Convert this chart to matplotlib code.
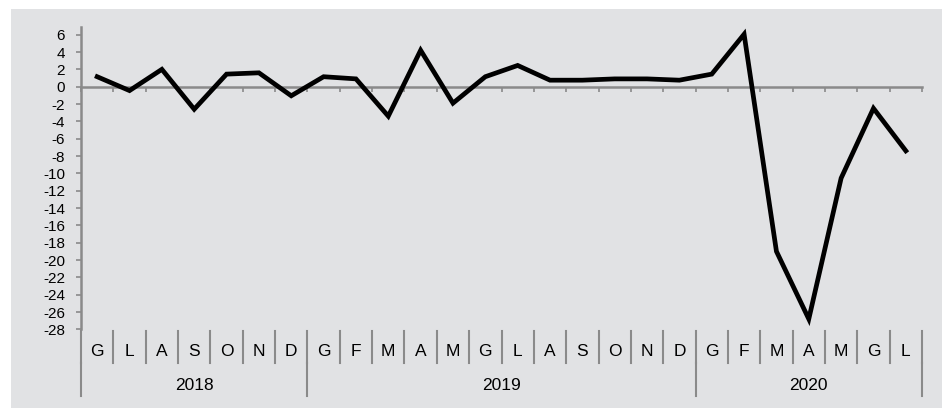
import matplotlib
matplotlib.use("Agg")
import matplotlib.pyplot as plt
from matplotlib.patches import Rectangle
import matplotlib.transforms as mtransforms

months = ['G', 'L', 'A', 'S', 'O', 'N', 'D',
          'G', 'F', 'M', 'A', 'M', 'G', 'L', 'A', 'S', 'O', 'N', 'D',
          'G', 'F', 'M', 'A', 'M', 'G', 'L']
years = ['2018', '2019', '2020']
year_counts = [7, 12, 7]
values = [1.15, -0.45, 2.0, -2.6, 1.45, 1.6, -1.05,
          1.15, 0.9, -3.4, 4.2, -1.9, 1.15, 2.45, 0.75, 0.75, 0.9, 0.9, 0.75,
          1.45, 6.05, -19.0, -26.8, -10.55, -2.5, -7.4]
yticks = list(range(-28, 7, 2))

plt.rcParams['font.family'] = ['Liberation Sans', 'DejaVu Sans']

W, H = 942, 408
fig = plt.figure(figsize=(W / 100, H / 100), dpi=100)
fig.patch.set_facecolor('white')
bg = '#e1e2e4'
fig.add_artist(Rectangle((11 / W, 0), 1 - 11 / W, 1 - 9 / H,
                         transform=fig.transFigure, facecolor=bg,
                         edgecolor='none', zorder=-10))

left, right = 81 / W, 922 / W
bottom, top = 1 - 329.4 / H, 1 - 26.7 / H
ax = fig.add_axes([left, bottom, right - left, top - bottom])
ax.set_facecolor('none')
ax.set_zorder(5)

n = len(months)
x = list(range(n))
ax.plot(x, values, color='black', lw=3.4, solid_joinstyle='miter', zorder=3)

ax.set_xlim(-0.5, n - 0.5)
ax.set_ylim(-28, 6.92)

gray = '#8a8a8a'
for s in ['top', 'right']:
    ax.spines[s].set_visible(False)
ax.spines['left'].set_color(gray)
ax.spines['left'].set_linewidth(1.8)
ax.spines['bottom'].set_position(('data', 0))
ax.spines['bottom'].set_color(gray)
ax.spines['bottom'].set_linewidth(1.8)

ax.set_yticks(yticks)
ax.set_yticklabels([str(v) for v in yticks], fontsize=11)
ax.tick_params(axis='y', direction='out', length=3.5, width=1.2, color=gray, pad=8)
ax.set_xticks([i - 0.5 for i in range(n + 1)])
ax.set_xticklabels([])
ax.tick_params(axis='x', direction='out', length=3.5, width=1.2, color=gray)

trans = mtransforms.blended_transform_factory(ax.transData, ax.transAxes)
ax_h = 329.4 - 26.7
def yf(py):
    return (329.4 - py) / ax_h

# month separators
for k in range(n + 1):
    ax.plot([k - 0.5, k - 0.5], [yf(330.5), yf(363)], transform=trans,
            color=gray, lw=1.5, clip_on=False)
for i, m in enumerate(months):
    ax.text(i, yf(352), m, transform=trans, ha='center', va='center',
            fontsize=12.5, color='black')

# year separators and labels
start = 0
bounds = [0]
for c in year_counts:
    start += c
    bounds.append(start)
for b in bounds:
    ax.plot([b - 0.5, b - 0.5], [yf(363), yf(396)], transform=trans,
            color=gray, lw=1.5, clip_on=False)
for yr, a, b in zip(years, bounds[:-1], bounds[1:]):
    ax.text((a + b - 1) / 2, yf(385), yr, transform=trans, ha='center',
            va='center', fontsize=12.5, color='black')

fig.savefig('out.png', dpi=100, facecolor='white')
